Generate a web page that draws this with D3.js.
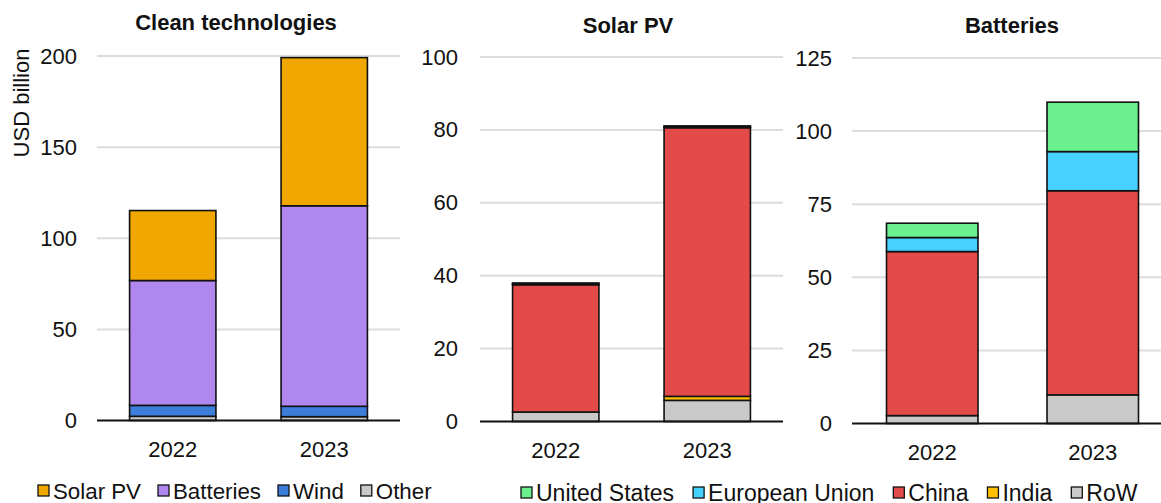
<!DOCTYPE html>
<html><head><meta charset="utf-8">
<script src="https://cdn.jsdelivr.net/npm/d3@7"></script>
<style>
html,body{margin:0;padding:0;background:#fff;}
svg{display:block;font-family:"Liberation Sans",Arial,sans-serif;}
</style></head>
<body>
<svg id="chart" width="1161" height="503"></svg>
<script>
// ---- data ----
const years = ["2022", "2023"];

const cleanKeys = ["Other", "Wind", "Batteries", "Solar PV"];
const cleanOther = [2.3, 2.1];
const cleanWind = [6.0, 5.7];
const cleanBatteries = [68.5, 110.0];
const cleanSolar = [38.4, 81.3];

const regionKeys = ["RoW", "India", "China", "European Union", "United States"];
const solarRoW = [2.6, 5.8];
const solarIndia = [0.0, 1.1];
const solarChina = [34.9, 73.7];
const solarEU = [0.3, 0.3];
const solarUS = [0.2, 0.2];

const battRoW = [2.7, 9.8];
const battIndia = [0.0, 0.0];
const battChina = [56.1, 69.8];
const battEU = [4.8, 13.4];
const battUS = [4.9, 16.9];

const cleanTicks = [0, 50, 100, 150, 200];
const solarTicks = [0, 20, 40, 60, 80, 100];
const battTicks = [0, 25, 50, 75, 100, 125];

const cleanLegend = ["Solar PV", "Batteries", "Wind", "Other"];
const regionLegend = ["United States", "European Union", "China", "India", "RoW"];

// ---- styles ----
const colors = {
  "Solar PV": "#F0A800", "Batteries": "#B087EE", "Wind": "#3B7DD8", "Other": "#C9C9C9",
  "United States": "#6BF090", "European Union": "#45D2FF", "China": "#E24B4A", "India": "#FFC000", "RoW": "#C9C9C9"
};

const svg = d3.select("#chart");

function buildRows(keys, arrays) {
  return years.map((y, i) => {
    const r = {year: y};
    keys.forEach((k, j) => r[k] = arrays[j][i]);
    return r;
  });
}

function panel(cfg) {
  const g = svg.append("g");
  const x = d3.scaleBand().domain(years).range(cfg.xr).paddingInner(0.43).paddingOuter(0.215);
  const y = d3.scaleLinear().domain(cfg.domain).range(cfg.yr);

  g.append("g").selectAll("line").data(cfg.ticks.filter(t => t !== 0)).join("line")
    .attr("x1", cfg.xr[0]).attr("x2", cfg.xr[1])
    .attr("y1", d => y(d)).attr("y2", d => y(d))
    .attr("stroke", "#DCDCDC").attr("stroke-width", 2);

  const ya = g.append("g").attr("transform", `translate(${cfg.xr[0]},0)`)
    .call(d3.axisLeft(y).tickValues(cfg.ticks).tickSize(0).tickPadding(cfg.tickPad).tickFormat(d3.format("d")));
  ya.select(".domain").remove();
  ya.selectAll("text").attr("font-size", 22).attr("fill", "#111").attr("font-family", "Liberation Sans, Arial, sans-serif");

  const stack = d3.stack().keys(cfg.keys)(cfg.rows);
  g.append("g").selectAll("g").data(stack).join("g")
    .attr("fill", d => colors[d.key])
    .selectAll("rect").data(d => d).join("rect")
    .attr("x", d => x(d.data.year))
    .attr("width", x.bandwidth())
    .attr("y", d => y(d[1]))
    .attr("height", d => y(d[0]) - y(d[1]))
    .attr("stroke", "#111").attr("stroke-width", 1.6);

  g.append("line").attr("x1", cfg.xr[0]).attr("x2", cfg.xr[1])
    .attr("y1", y(0)).attr("y2", y(0)).attr("stroke", "#111").attr("stroke-width", 2);

  const xa = g.append("g").attr("transform", `translate(0,${y(0)})`)
    .call(d3.axisBottom(x).tickSize(0).tickPadding(21));
  xa.select(".domain").remove();
  xa.selectAll("text").attr("font-size", 22).attr("fill", "#111").attr("font-family", "Liberation Sans, Arial, sans-serif");

  g.append("text").attr("x", cfg.titleX).attr("y", cfg.titleY).attr("text-anchor", "middle")
    .attr("font-size", 22).attr("font-weight", "bold").attr("fill", "#111").text(cfg.title);
}

panel({title: "Clean technologies", titleX: 236, titleY: 30, xr: [97, 400], yr: [420.5, 56], domain: [0, 200],
  ticks: cleanTicks, tickPad: 20, keys: cleanKeys,
  rows: buildRows(cleanKeys, [cleanOther, cleanWind, cleanBatteries, cleanSolar])});
panel({title: "Solar PV", titleX: 628, titleY: 33, xr: [480, 783], yr: [421.5, 57], domain: [0, 100],
  ticks: solarTicks, tickPad: 22, keys: regionKeys,
  rows: buildRows(regionKeys, [solarRoW, solarIndia, solarChina, solarEU, solarUS])});
panel({title: "Batteries", titleX: 1012, titleY: 33, xr: [852, 1173], yr: [423.5, 58], domain: [0, 125],
  ticks: battTicks, tickPad: 20, keys: regionKeys,
  rows: buildRows(regionKeys, [battRoW, battIndia, battChina, battEU, battUS])});

svg.append("text").attr("transform", "translate(29,103) rotate(-90)").attr("text-anchor", "middle")
  .attr("font-size", 22).attr("fill", "#111").text("USD billion");

function legend(items, x0, yc, gap, fs) {
  const g = svg.append("g");
  let x = x0;
  items.forEach(k => {
    g.append("rect").attr("x", x + 1).attr("y", yc - 6).attr("width", 11).attr("height", 11)
      .attr("fill", colors[k]).attr("stroke", "#111").attr("stroke-width", 1.3);
    const t = g.append("text").attr("x", x + 16).attr("y", yc + 8).attr("font-size", fs).attr("fill", "#111").text(k);
    x += 16 + t.node().getComputedTextLength() + gap;
  });
}
legend(cleanLegend, 37, 491, 16, 22.3);
legend(regionLegend, 520, 493, 18, 23);
</script>
</body></html>
